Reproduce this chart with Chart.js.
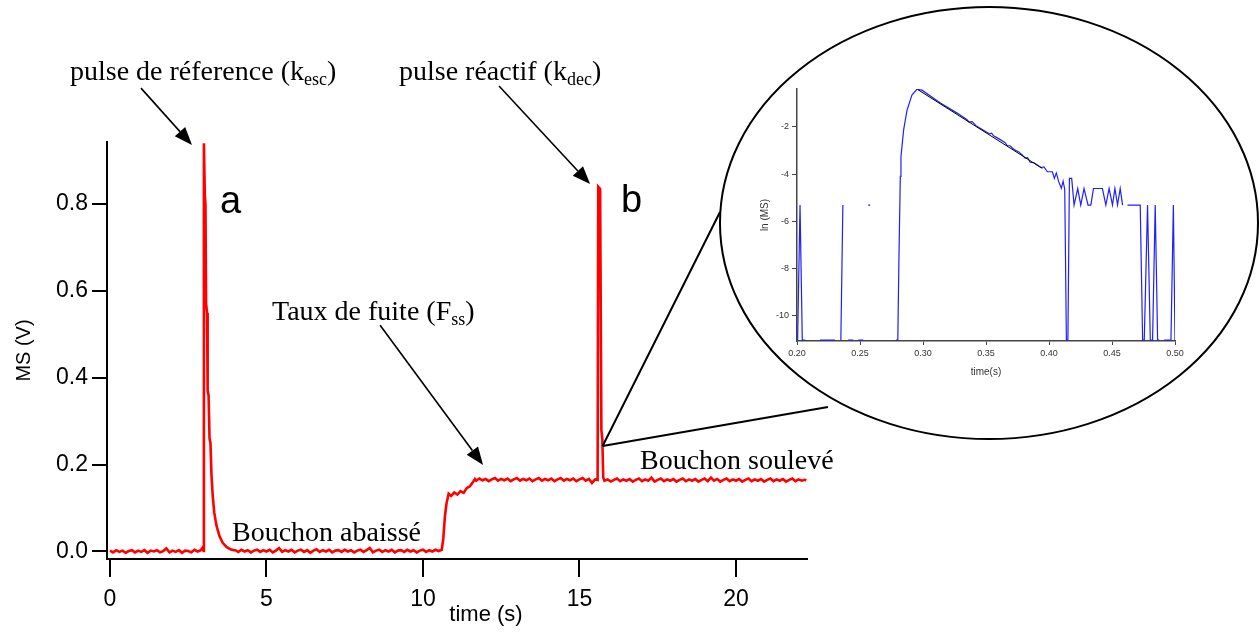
<!DOCTYPE html>
<html>
<head>
<meta charset="utf-8">
<script src="https://cdn.jsdelivr.net/npm/chart.js@4.4.1/dist/chart.umd.min.js"></script>
<style>
  html, body { margin: 0; padding: 0; background: #fff; }
  #wrap { position: relative; width: 1260px; height: 633px; }
  #wrap canvas { position: absolute; left: 0; top: 0; }
</style>
</head>
<body>
<div id="wrap">
  <canvas id="main-chart" width="1260" height="633"></canvas>
  <canvas id="inset-chart" width="1260" height="633"></canvas>
</div>
<script>
// main trace, [time (s), MS (V)]
const baselineBefore = [
  [0.0, 0.002], [0.1, -0.002], [0.2, 0.003], [0.3, -0.001], [0.4, 0.002], [0.5, -0.003], [0.6, 0.001], [0.7, 0.003], [0.8, -0.002], [0.9, 0.002],
  [1.0, -0.001], [1.1, 0.003], [1.2, -0.003], [1.3, 0.002], [1.4, 0.000], [1.5, 0.003], [1.6, -0.002], [1.7, 0.001], [1.8, 0.007], [1.9, -0.002],
  [2.0, 0.002], [2.1, -0.001], [2.2, 0.003], [2.3, -0.003], [2.4, 0.002], [2.5, 0.001], [2.6, -0.002], [2.7, 0.004], [2.8, 0.000], [2.9, 0.003],
  [2.95, 0.008], [2.99, 0.001],
];
const pulseA = [
  [3.00, 0.940], [3.03, 0.82], [3.05, 0.80], [3.07, 0.57], [3.10, 0.55], [3.12, 0.37], [3.15, 0.36], [3.18, 0.26], [3.21, 0.25], [3.24, 0.18],
  [3.28, 0.13], [3.33, 0.09], [3.40, 0.06], [3.50, 0.035], [3.60, 0.02], [3.73, 0.010], [3.85, 0.005], [3.95, 0.003],
];
const baselineBetween = [
  [4.0, 0.003], [4.1, -0.001], [4.2, 0.004], [4.3, 0.000], [4.4, 0.003], [4.5, -0.002], [4.6, 0.002], [4.7, 0.004], [4.8, -0.001], [4.9, 0.003],
  [5.0, 0.000], [5.1, 0.004], [5.2, -0.002], [5.3, 0.002], [5.4, 0.008], [5.5, -0.001], [5.6, 0.003], [5.7, 0.000], [5.8, 0.004], [5.9, -0.002],
  [6.0, 0.002], [6.1, 0.004], [6.2, -0.001], [6.3, 0.003], [6.4, -0.003], [6.5, 0.002], [6.6, 0.005], [6.7, -0.001], [6.8, 0.003], [6.9, 0.000],
  [7.0, 0.004], [7.1, -0.002], [7.2, 0.002], [7.3, 0.003], [7.4, -0.001], [7.5, 0.004], [7.6, 0.000], [7.7, 0.003], [7.8, -0.002], [7.9, 0.002],
  [8.0, 0.004], [8.1, -0.001], [8.2, 0.003], [8.3, 0.008], [8.4, -0.002], [8.5, 0.002], [8.6, 0.004], [8.7, -0.001], [8.8, 0.003], [8.9, 0.000],
  [9.0, 0.004], [9.1, -0.002], [9.2, 0.002], [9.3, 0.003], [9.4, -0.001], [9.5, 0.004], [9.6, 0.000], [9.7, 0.003], [9.8, -0.002], [9.9, 0.002],
  [10.0, 0.004], [10.1, -0.001], [10.2, 0.003], [10.3, 0.000], [10.4, 0.004], [10.5, 0.001],
];
const leakRise = [
  [10.60, 0.004], [10.65, 0.03], [10.70, 0.08], [10.75, 0.11], [10.82, 0.133], [10.9, 0.128], [11.0, 0.136], [11.1, 0.131], [11.2, 0.139], [11.3, 0.135],
  [11.4, 0.146], [11.5, 0.150], [11.58, 0.158], [11.66, 0.167],
];
const leakPlateau = [
  [11.7, 0.163], [11.8, 0.168], [11.9, 0.164], [12.0, 0.167], [12.1, 0.162], [12.2, 0.166], [12.3, 0.169], [12.4, 0.163], [12.5, 0.167], [12.6, 0.164],
  [12.7, 0.168], [12.8, 0.162], [12.9, 0.166], [13.0, 0.169], [13.1, 0.163], [13.2, 0.167], [13.3, 0.164], [13.4, 0.168], [13.5, 0.162], [13.6, 0.166],
  [13.7, 0.169], [13.8, 0.163], [13.9, 0.167], [14.0, 0.164], [14.1, 0.168], [14.2, 0.162], [14.3, 0.166], [14.4, 0.169], [14.5, 0.163], [14.6, 0.167],
  [14.7, 0.164], [14.8, 0.168], [14.9, 0.162], [15.0, 0.166], [15.1, 0.169], [15.2, 0.163], [15.3, 0.167], [15.4, 0.158], [15.5, 0.166],
];
const pulseB = [
  [15.58, 0.165], [15.60, 0.840], [15.66, 0.835], [15.70, 0.28], [15.73, 0.26], [15.76, 0.17],
];
const plateauAfter = [
  [15.8, 0.163], [15.9, 0.166], [16.0, 0.161], [16.1, 0.165], [16.2, 0.168], [16.3, 0.162], [16.4, 0.166], [16.5, 0.163], [16.6, 0.167], [16.7, 0.161],
  [16.8, 0.165], [16.9, 0.168], [17.0, 0.162], [17.1, 0.166], [17.2, 0.163], [17.3, 0.170], [17.4, 0.161], [17.5, 0.165], [17.6, 0.168], [17.7, 0.162],
  [17.8, 0.166], [17.9, 0.163], [18.0, 0.167], [18.1, 0.161], [18.2, 0.165], [18.3, 0.168], [18.4, 0.162], [18.5, 0.166], [18.6, 0.163], [18.7, 0.167],
  [18.8, 0.161], [18.9, 0.165], [19.0, 0.168], [19.1, 0.162], [19.2, 0.170], [19.3, 0.163], [19.4, 0.167], [19.5, 0.161], [19.6, 0.165], [19.7, 0.168],
  [19.8, 0.162], [19.9, 0.166], [20.0, 0.163], [20.1, 0.167], [20.2, 0.161], [20.3, 0.165], [20.4, 0.168], [20.5, 0.162], [20.6, 0.166], [20.7, 0.163],
  [20.8, 0.167], [20.9, 0.161], [21.0, 0.165], [21.1, 0.168], [21.2, 0.162], [21.3, 0.166], [21.4, 0.163], [21.5, 0.167], [21.6, 0.161], [21.7, 0.165],
  [21.8, 0.168], [21.9, 0.162], [22.0, 0.166], [22.1, 0.163], [22.2, 0.165], [22.25, 0.164],
];

// inset: ln(MS) vs time around pulse b; null = gap in the record
const insetTrace = [
  [0.2005, -11.02], [0.2024, -5.31], [0.2042, -11.02], [0.2066, -11.02], [0.2075, null],
  [0.2183, -11.02], [0.2302, -11.02], [0.2320, null],
  [0.2348, -11.02], [0.2364, -5.31], [0.2380, null],
  [0.2406, -11.02], [0.2446, -11.02], [0.2460, null],
  [0.2486, -11.02], [0.2526, -11.02], [0.2540, null],
  [0.2565, -5.31], [0.2581, -5.31], [0.2600, null],
  [0.2785, -11.02], [0.2800, -11.02], [0.2809, -7.6], [0.2820, -4.1], [0.2825, -3.27], [0.2846, -2.14], [0.2873, -1.30], [0.2912, -0.66], [0.2952, -0.41], [0.2992, -0.45],
  [0.3138, -0.99], [0.3271, -1.42], [0.3350, -1.70], [0.3365, -1.80], [0.3390, -1.78], [0.3420, -1.95], [0.3450, -2.05], [0.3500, -2.21], [0.3530, -2.30], [0.3545, -2.27],
  [0.3560, -2.38], [0.3600, -2.50], [0.3650, -2.66], [0.3668, -2.79], [0.3690, -2.80], [0.3720, -2.95], [0.3760, -3.06], [0.3790, -3.20], [0.3810, -3.32], [0.3830, -3.30],
  [0.3850, -3.50], [0.3880, -3.52], [0.3910, -3.62], [0.3934, -3.72], [0.3960, -3.70], [0.3987, -3.90], [0.4027, -3.90], [0.4043, -4.18], [0.4058, -3.95], [0.4077, -4.32],
  [0.4098, -4.60], [0.4112, -4.30], [0.4125, -4.65], [0.4138, -11.02], [0.4150, -11.02], [0.4162, -4.18], [0.4180, -4.18], [0.4199, -5.31], [0.4228, -4.61], [0.4252, -5.31],
  [0.4278, -4.61], [0.4310, -5.31], [0.4332, -5.31], [0.4353, -4.61], [0.4424, -4.61], [0.4451, -5.31], [0.4477, -4.61], [0.4504, -5.31], [0.4523, -4.61], [0.4544, -5.31],
  [0.4565, -4.61], [0.4584, -5.31], [0.4600, null],
  [0.4623, -5.31], [0.4724, -5.31], [0.4743, -11.02], [0.4756, -11.02], [0.4782, -5.31], [0.4804, -11.02], [0.4822, -11.02], [0.4843, -5.31], [0.4862, -11.02], [0.4875, -11.02],
  [0.4890, null],
  [0.4915, -11.02], [0.4968, -11.02], [0.4987, -5.31], [0.5000, -11.02],
];
const insetFit = [[0.2960, -0.43], [0.3947, -3.76]];

const xTickValues = [0, 5, 10, 15, 20];
const yTickValues = [0, 0.2, 0.4, 0.6, 0.8];
const insetXTicks = [0.20, 0.25, 0.30, 0.35, 0.40, 0.45, 0.50];
const insetYTicks = [-2, -4, -6, -8, -10];

// arrow ends and the zoom anchor, in data units of the main plot
const refArrow = [[0.99, 1.067], [2.62, 0.936]];
const reactArrow = [[12.43, 1.072], [15.34, 0.846]];
const leakArrow = [[8.63, 0.521], [11.92, 0.199]];
const zoomAnchor = [15.74, 0.243];

const mainTrace = [...baselineBefore, ...pulseA, ...baselineBetween, ...leakRise, ...leakPlateau, ...pulseB, ...plateauAfter];
const toPoints = rows => rows.map(([x, y]) => ({ x, y }));

Chart.defaults.font.family = 'Arial, "Liberation Sans", sans-serif';
const serif = '"Times New Roman", "Liberation Serif", serif';

const drawArrow = (ctx, x0, y0, x1, y1) => {
    const ang = Math.atan2(y1 - y0, x1 - x0);
    const len = 18, half = 7;
    const bx = x1 - len * Math.cos(ang);
    const by = y1 - len * Math.sin(ang);
    ctx.lineWidth = 1.6;
    ctx.beginPath();
    ctx.moveTo(x0, y0);
    ctx.lineTo(bx, by);
    ctx.stroke();
    ctx.beginPath();
    ctx.moveTo(x1, y1);
    ctx.lineTo(bx - half * Math.sin(ang), by + half * Math.cos(ang));
    ctx.lineTo(bx + half * Math.sin(ang), by - half * Math.cos(ang));
    ctx.closePath();
    ctx.fill();
};

const drawSubText = (ctx, x, y, main, sub, tail) => {
    ctx.font = `28px ${serif}`;
    ctx.fillText(main, x, y);
    let w = ctx.measureText(main).width;
    ctx.font = `18px ${serif}`;
    ctx.fillText(sub, x + w, y + 5);
    w += ctx.measureText(sub).width;
    ctx.font = `28px ${serif}`;
    ctx.fillText(tail, x + w, y);
};

const figureNotes = {
    id: 'figureNotes',
    afterDraw(chart) {
        const { ctx, scales: { x, y } } = chart;
        const px = p => [x.getPixelForValue(p[0]), y.getPixelForValue(p[1])];
        ctx.save();
        ctx.strokeStyle = '#000';
        ctx.fillStyle = '#000';

        // zoom bubble + connectors
        ctx.lineWidth = 2;
        ctx.beginPath();
        ctx.ellipse(989, 223, 269, 216, 0, 0, Math.PI * 2);
        ctx.stroke();
        const [ax, ay] = px(zoomAnchor);
        ctx.beginPath();
        ctx.moveTo(ax, ay);
        ctx.lineTo(720, 212);
        ctx.moveTo(ax, ay);
        ctx.lineTo(828, 407);
        ctx.stroke();

        [refArrow, reactArrow, leakArrow].forEach(([from, to]) => {
            const [x0, y0] = px(from);
            const [x1, y1] = px(to);
            drawArrow(ctx, x0, y0, x1, y1);
        });

        ctx.textBaseline = 'alphabetic';
        ctx.textAlign = 'left';
        drawSubText(ctx, 70, 80, 'pulse de réference (k', 'esc', ')');
        drawSubText(ctx, 399, 80, 'pulse réactif (k', 'dec', ')');
        drawSubText(ctx, 272, 320, 'Taux de fuite (F', 'ss', ')');
        ctx.font = `28px ${serif}`;
        ctx.fillText('Bouchon abaissé', 232, 541);
        ctx.fillText('Bouchon soulevé', 640, 469);

        ctx.font = '38px Arial, "Liberation Sans", sans-serif';
        ctx.fillText('a', 220, 213);
        ctx.fillText('b', 621, 212);

        ctx.font = '22px Arial, "Liberation Sans", sans-serif';
        ctx.textAlign = 'center';
        ctx.fillText('time (s)', 486, 621);
        ctx.restore();
    },
};

new Chart(document.getElementById('main-chart'), {
    type: 'line',
    data: {
        datasets: [
            {
                data: toPoints(mainTrace),
                borderColor: '#ff0000',
                borderWidth: 2.6,
                pointRadius: 0,
                tension: 0,
                fill: false,
            },
        ],
    },
    options: {
        responsive: false,
        animation: false,
        devicePixelRatio: 1,
        layout: { padding: { left: 0, top: 142, right: 453, bottom: 0 } },
        plugins: { legend: { display: false }, tooltip: { enabled: false } },
        scales: {
            x: {
                type: 'linear',
                min: -0.096,
                max: 22.27,
                afterBuildTicks: s => { s.ticks = xTickValues.map(value => ({ value })); },
                afterFit: s => { s.height = 74; },
                border: { display: true, color: '#000', width: 2 },
                grid: { drawOnChartArea: false, drawTicks: true, tickLength: 18, color: '#000', lineWidth: 2 },
                ticks: { color: '#000', font: { size: 23 }, padding: 9, maxRotation: 0, callback: v => String(v) },
            },
            y: {
                type: 'linear',
                min: -0.0173,
                max: 0.943,
                afterBuildTicks: s => { s.ticks = yTickValues.map(value => ({ value })); },
                afterFit: s => { s.width = 107; },
                border: { display: true, color: '#000', width: 2 },
                grid: { drawOnChartArea: false, drawTicks: true, tickLength: 15, color: '#000', lineWidth: 2 },
                ticks: { color: '#000', font: { size: 23 }, padding: 4, callback: v => v.toFixed(1) },
                title: { display: true, text: 'MS (V)', color: '#000', font: { size: 20 }, padding: { top: 12, bottom: 0 } },
            },
        },
    },
    plugins: [figureNotes],
});

new Chart(document.getElementById('inset-chart'), {
    type: 'line',
    data: {
        datasets: [
            {
                data: toPoints(insetFit),
                borderColor: '#000',
                borderWidth: 1,
                pointRadius: 0,
                tension: 0,
            },
            {
                data: toPoints(insetTrace),
                borderColor: '#1f1fff',
                borderWidth: 1.2,
                pointRadius: 0,
                tension: 0,
                spanGaps: false,
            },
        ],
    },
    options: {
        responsive: false,
        animation: false,
        devicePixelRatio: 1,
        layout: { padding: { left: 757, top: 89, right: 85, bottom: 247 } },
        plugins: { legend: { display: false }, tooltip: { enabled: false } },
        scales: {
            x: {
                type: 'linear',
                min: 0.2,
                max: 0.5,
                afterBuildTicks: s => { s.ticks = insetXTicks.map(value => ({ value })); },
                afterFit: s => { s.height = 45; },
                border: { display: true, color: '#444', width: 1.5 },
                grid: { drawOnChartArea: false, drawTicks: true, tickLength: 4, color: '#444', lineWidth: 1 },
                ticks: { color: '#333', font: { size: 9 }, padding: 3, maxRotation: 0, callback: v => v.toFixed(2) },
                title: { display: true, text: 'time(s)', color: '#333', font: { size: 10 }, padding: { top: 0, bottom: 8 } },
            },
            y: {
                type: 'linear',
                min: -11.06,
                max: -0.4,
                afterBuildTicks: s => { s.ticks = insetYTicks.map(value => ({ value })); },
                afterFit: s => { s.width = 40; },
                border: { display: true, color: '#444', width: 1.5 },
                grid: { drawOnChartArea: false, drawTicks: true, tickLength: 5, color: '#444', lineWidth: 1 },
                ticks: { color: '#333', font: { size: 9 }, padding: 3, callback: v => String(v) },
                title: { display: true, text: 'ln (MS)', color: '#333', font: { size: 10 }, padding: { top: 2, bottom: 0 } },
            },
        },
    },
});
</script>
</body>
</html>
